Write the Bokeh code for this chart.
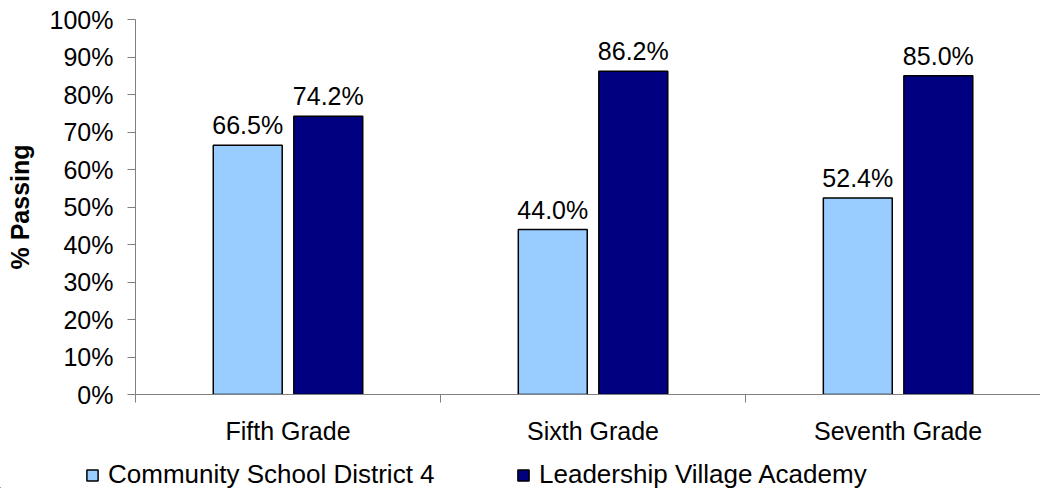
from bokeh.plotting import figure
from bokeh.models import (Range1d, FixedTicker, NumeralTickFormatter, ColumnDataSource,
                          Legend, LegendItem)
from bokeh.transform import dodge
from bokeh.embed import file_html
from bokeh.resources import INLINE
from bokeh.core.properties import value

# ---- data ----
grades = ["Fifth Grade", "Sixth Grade", "Seventh Grade"]
district = [0.665, 0.440, 0.524]
academy = [0.742, 0.862, 0.850]
series_names = ["Community School District 4", "Leadership Village Academy"]
y_ticks = [0.0, 0.1, 0.2, 0.3, 0.4, 0.5, 0.6, 0.7, 0.8, 0.9, 1.0]

FONT = "Liberation Sans"
LIGHT = "#99CCFF"
DARK = "#000080"
AXIS = "#808080"

xc = [i + 0.5 for i in range(len(grades))]
src = ColumnDataSource(dict(
    x=xc,
    district=district,
    academy=academy,
    dlab=[f"{v * 100:.1f}%" for v in district],
    alab=[f"{v * 100:.1f}%" for v in academy],
))

p = figure(width=1040, height=452, output_backend="svg", toolbar_location=None,
           x_range=Range1d(0, 2.967), y_range=Range1d(0, 1),
           min_border_left=135, min_border_right=0, min_border_top=19, min_border_bottom=58)
p.outline_line_color = None
p.xgrid.grid_line_color = None
p.ygrid.grid_line_color = None
p.background_fill_color = "white"
p.border_fill_color = "white"

off = 0.132
bw = 0.226
r1 = p.vbar(x=dodge("x", -off), top="district", width=bw, source=src,
            fill_color=LIGHT, line_color="black", line_width=1.5)
r2 = p.vbar(x=dodge("x", off), top="academy", width=bw, source=src,
            fill_color=DARK, line_color="black", line_width=1.5)

p.text(x=dodge("x", -off), y="district", text="dlab", source=src, y_offset=-20,
       text_align="center", text_baseline="alphabetic",
       text_font=value(FONT), text_font_size="25px", text_color="black")
p.text(x=dodge("x", off), y="academy", text="alab", source=src, y_offset=-20,
       text_align="center", text_baseline="alphabetic",
       text_font=value(FONT), text_font_size="25px", text_color="black")

# x axis
xa = p.xaxis[0]
xa.ticker = FixedTicker(ticks=xc, minor_ticks=[0, 1, 2, 3])
xa.major_label_overrides = {x: g for x, g in zip(xc, grades)}
xa.major_tick_line_color = None
xa.major_tick_out = 0
xa.major_tick_in = 0
xa.minor_tick_out = 8
xa.minor_tick_in = 0
xa.minor_tick_line_color = AXIS
xa.axis_line_color = AXIS
xa.major_label_standoff = 14
xa.major_label_text_font = FONT
xa.major_label_text_font_size = "25px"
xa.major_label_text_color = "black"

# y axis
ya = p.yaxis[0]
ya.ticker = FixedTicker(ticks=y_ticks, minor_ticks=[])
ya.formatter = NumeralTickFormatter(format="0%")
ya.major_tick_out = 8
ya.major_tick_in = 0
ya.major_tick_line_color = AXIS
ya.axis_line_color = AXIS
ya.major_label_standoff = 14
ya.major_label_text_font = FONT
ya.major_label_text_font_size = "25px"
ya.major_label_text_color = "black"
ya.axis_label = "% Passing"
ya.axis_label_text_font = FONT
ya.axis_label_text_font_size = "25px"
ya.axis_label_text_font_style = "bold"
ya.axis_label_text_color = "black"
ya.axis_label_standoff = 13

# ---- legend strip (separate root, below the chart) ----
# its bars lie far outside its visible ranges; only the legend is seen
lf = figure(width=1040, height=36, output_backend="svg", toolbar_location=None,
            x_axis_type=None, y_axis_type=None,
            min_border_left=0, min_border_right=0, min_border_top=0, min_border_bottom=0,
            x_range=Range1d(100, 101), y_range=Range1d(50, 51))
lf.outline_line_color = None
lf.xgrid.grid_line_color = None
lf.ygrid.grid_line_color = None
lf.border_fill_color = "white"
lf.background_fill_color = "white"
lr1 = lf.vbar(x=dodge("x", -off), top="district", width=bw, source=src,
              fill_color=LIGHT, line_color="black", line_width=1.5)
lr2 = lf.vbar(x=dodge("x", off), top="academy", width=bw, source=src,
              fill_color=DARK, line_color="black", line_width=1.5)

legend = Legend(items=[LegendItem(label=series_names[0], renderers=[lr1]),
                       LegendItem(label=series_names[1], renderers=[lr2])],
                location=(85, -2), orientation="horizontal",
                glyph_width=14, glyph_height=14, label_standoff=9, label_width=408,
                spacing=0, padding=0, margin=0, border_line_color=None,
                background_fill_alpha=0, label_text_font=FONT,
                label_text_font_size="26px", label_text_color="black")
lf.add_layout(legend, "center")

open("out.html", "w").write(file_html([p, lf], INLINE))
